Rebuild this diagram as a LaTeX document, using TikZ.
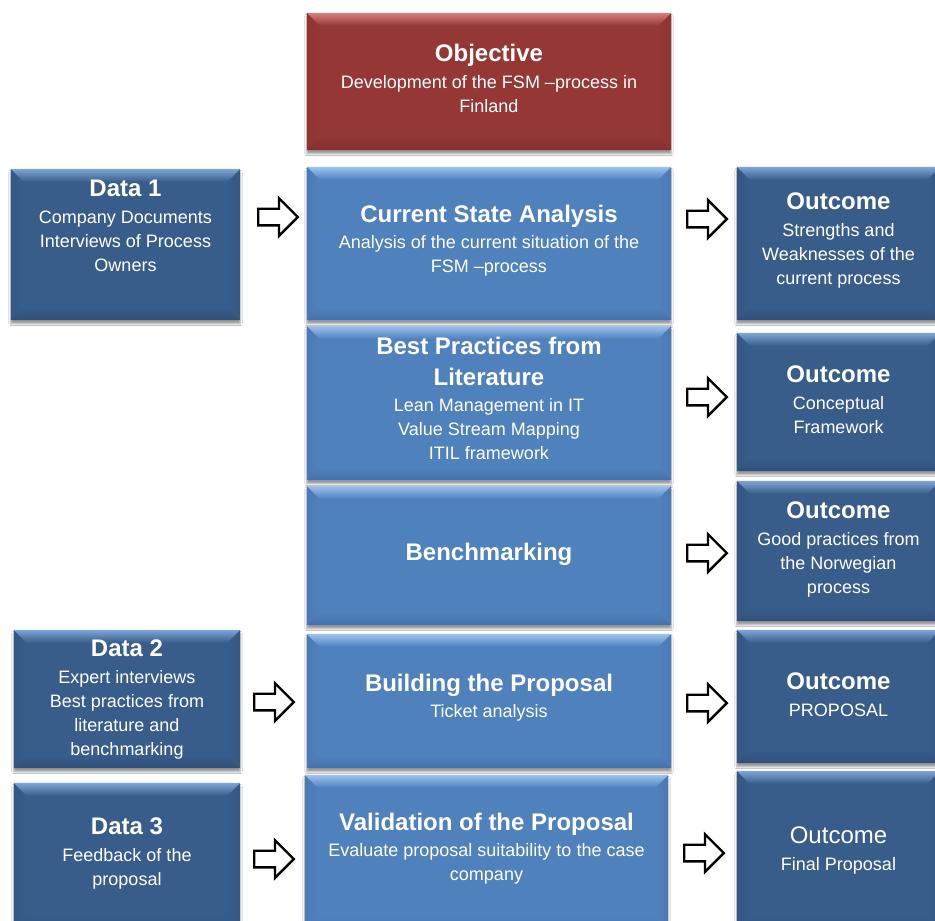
\documentclass[tikz,border=0pt]{standalone}
\usepackage{fontspec}
\setmainfont{Liberation Sans}
\usetikzlibrary{shadows.blur}

% colour schemes: face, top bevel highlight, bottom bevel, side bevels
\definecolor{mid-face}{HTML}{4F81BD}
\definecolor{mid-top}{HTML}{9DC3EF}
\definecolor{mid-bot}{HTML}{4271AA}
\definecolor{mid-side}{HTML}{4A7AB5}
\definecolor{side-face}{HTML}{385D8A}
\definecolor{side-top}{HTML}{7EA5D6}
\definecolor{side-bot}{HTML}{2F507A}
\definecolor{side-side}{HTML}{345884}
\definecolor{red-face}{HTML}{953735}
\definecolor{red-top}{HTML}{D9807E}
\definecolor{red-bot}{HTML}{812E2D}
\definecolor{red-side}{HTML}{8D3432}

\tikzset{
  paneltext/.style={text=white, align=center, inner sep=0pt,
    font=\fontsize{18}{24}\selectfont},
  blockarrow/.style={draw=black, fill=white, line width=2.4pt, line join=miter},
}
\newcommand\ttl[1]{{\fontsize{24}{28}\selectfont\bfseries #1}}

% bevelled panel: #1 name, #2 scheme, #3 left, #4 top, #5 right, #6 bottom,
% #7 upward text offset, #8 text
\newcommand\panel[8]{%
  \node[minimum width=#5pt-#3pt, minimum height=#6pt-#4pt, inner sep=0pt]
    (#1) at ({(#3+#5)/2},{(#4+#6)/2}) {};
  \fill[#2-face, blur shadow={shadow xshift=0pt, shadow yshift=-3.5pt,
      shadow blur radius=2pt, shadow opacity=40}]
    (#1.north west) rectangle (#1.south east);
  \shade[left color=#2-side, right color=#2-face]
    (#1.north west) -- ([shift={(13pt,-13pt)}]#1.north west)
    -- ([shift={(13pt,13pt)}]#1.south west) -- (#1.south west) -- cycle;
  \shade[right color=#2-side, left color=#2-face]
    (#1.north east) -- ([shift={(-13pt,-13pt)}]#1.north east)
    -- ([shift={(-13pt,13pt)}]#1.south east) -- (#1.south east) -- cycle;
  \shade[top color=#2-top, bottom color=#2-face]
    (#1.north west) -- (#1.north east) -- ([shift={(-13pt,-13pt)}]#1.north east)
    -- ([shift={(13pt,-13pt)}]#1.north west) -- cycle;
  \shade[bottom color=#2-bot, top color=#2-face]
    (#1.south west) -- (#1.south east) -- ([shift={(-13pt,13pt)}]#1.south east)
    -- ([shift={(13pt,13pt)}]#1.south west) -- cycle;
  \node[paneltext] (#1-text) at ([yshift=#7pt]#1.center) {#8};
}

% hollow block arrow: #1 name, #2 tail point
\newcommand\blockarr[2]{%
  \coordinate (#1) at #2;
  \draw[blockarrow] (#1) ++(0pt,8.3pt) -- ++(20.8pt,0pt) -- ++(0pt,10.5pt)
    -- ++(18.8pt,-18.8pt) -- ++(-18.8pt,-18.8pt) -- ++(0pt,10.5pt)
    -- ++(-20.8pt,0pt) -- cycle;
}

\begin{document}
\begin{tikzpicture}[x=1pt, y=-1pt]
\useasboundingbox (0,0) rectangle (935,921);
\fill[white] (0,0) rectangle (935,921);

\panel{obj}{red}{307}{13}{671}{150}{3}{\ttl{Objective}\\[3pt] Development of the FSM –process in\\ Finland}

\panel{data1}{side}{11}{169}{240}{320}{19}{\ttl{Data 1}\\[3pt] Company Documents\\ Interviews of Process\\ Owners}
\panel{cur}{mid}{307}{167}{671}{320}{3}{\ttl{Current State Analysis}\\[2pt] Analysis of the current situation of the\\ FSM –process}
\panel{out1}{side}{737}{167}{940}{320}{3}{\ttl{Outcome}\\[3pt] Strengths and\\ Weaknesses of the\\ current process}

\panel{best}{mid}{307}{326}{671}{480}{5}{\ttl{Best Practices from}\\[7pt]\ttl{Literature}\\[2pt] Lean Management in IT\\ Value Stream Mapping\\ ITIL framework}
\panel{out2}{side}{737}{333}{940}{471}{2}{\ttl{Outcome}\\[3pt] Conceptual\\ Framework}

\panel{bench}{mid}{307}{486}{671}{625}{1}{\ttl{Benchmarking}}
\panel{out3}{side}{737}{481}{940}{621}{2}{\ttl{Outcome}\\[3pt] Good practices from\\ the Norwegian\\ process}

\panel{data2}{side}{14}{630}{240}{768}{0}{\ttl{Data 2}\\[3pt] Expert interviews\\ Best practices from\\ literature and\\ benchmarking}
\panel{build}{mid}{307}{634}{671}{768}{3}{\ttl{Building the Proposal}\\[2pt] Ticket analysis}
\panel{out4}{side}{737}{630}{940}{763}{2}{\ttl{Outcome}\\[3pt] PROPOSAL}

\panel{data3}{side}{14}{783}{240}{930}{3}{\ttl{Data 3}\\[3pt] Feedback of the\\ proposal}
\panel{valid}{mid}{305}{775}{668}{930}{4}{\ttl{Validation of the Proposal}\\[2pt] Evaluate proposal suitability to the case\\ company}
\panel{out5}{side}{737}{771}{940}{930}{0}{{\fontsize{24}{28}\selectfont Outcome}\\[3pt] Final Proposal}

% arrows between the columns
\blockarr{a-data1}{(258.2,217)}
\blockarr{a-data2}{(254.2,702)}
\blockarr{a-data3}{(254.2,859)}
\blockarr{a-out1}{(687.2,219)}
\blockarr{a-out2}{(687.2,397)}
\blockarr{a-out3}{(687.2,553)}
\blockarr{a-out4}{(687.2,703)}
\blockarr{a-out5}{(684.2,853)}
\end{tikzpicture}
\end{document}
